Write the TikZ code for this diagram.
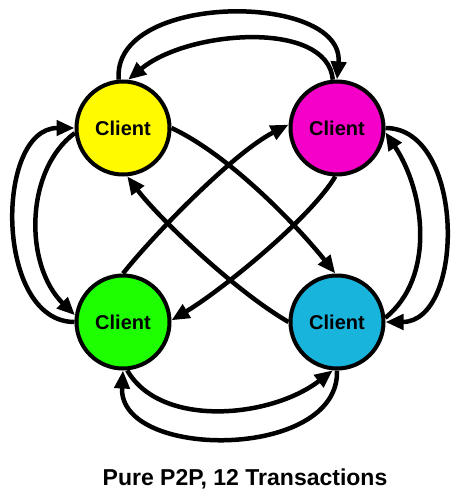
\documentclass[tikz,border=0pt]{standalone}
\usepackage{fontspec}
\setmainfont{Liberation Sans}
\usetikzlibrary{arrows.meta}

\definecolor{clientyellow}{RGB}{255,250,0}
\definecolor{clientmagenta}{RGB}{245,0,200}
\definecolor{clientgreen}{RGB}{30,255,0}
\definecolor{clientcyan}{RGB}{25,180,220}

\tikzset{
  client/.style={circle,draw=black,line width=4pt,minimum size=93pt,inner sep=0pt,
    font=\fontsize{20}{24}\selectfont\bfseries},
  link/.style={line width=4.5pt,-{Triangle[length=18pt,width=15pt]}}
}

\begin{document}
\begin{tikzpicture}[x=1pt,y=-1pt]
            \useasboundingbox (0,0) rectangle (460,503);

            % Draw the four clients
            \node[client,fill=clientyellow] (yel) at (123,128) {Client};
            \node[client,fill=clientmagenta] (mag) at (337,128) {Client};
            \node[client,fill=clientgreen] (grn) at (123,322) {Client};
            \node[client,fill=clientcyan] (cya) at (337,322) {Client};

            % Outer ring, clockwise
            \draw[link] (yel.95) .. controls +(-8,-88) and +(8,-88) .. (mag.90);
            \draw[link] (mag.0) .. controls +(80,0) and +(80,0) .. (cya.0);
            \draw[link] (cya.270) .. controls +(3,90) and +(-5,90) .. (grn.270);
            \draw[link] (grn.180) .. controls +(-80,0) and +(-80,0) .. (yel.180);

            % Inner ring, the other way round
            \draw[link] (mag.95) .. controls +(-5,-60) and +(60,-50) .. (yel.84);
            \draw[link] (yel.186) .. controls +(-50,37) and +(-51,-50) .. (grn.172);
            \draw[link] (grn.275) .. controls +(33,58) and +(-62,48) .. (cya.265);
            \draw[link] (cya.5) .. controls +(50,-40) and +(40,60) .. (mag.-5);

            % Across the middle
            \draw[link] (yel.0) .. controls +(60,28) and +(-35,-44) .. (cya.92);
            \draw[link] (cya.180) .. controls +(-55,-32) and +(30,40) .. (yel.275);
            \draw[link] (grn.90) .. controls +(30,-38) and +(-55,28) .. (mag.176);
            \draw[link] (mag.268) .. controls +(-25,42) and +(50,-30) .. (grn.2);

            \node[anchor=base,font=\fontsize{23}{27}\selectfont\bfseries] (title) at (245,485) {Pure P2P, 12 Transactions};

        \end{tikzpicture}
\end{document}
